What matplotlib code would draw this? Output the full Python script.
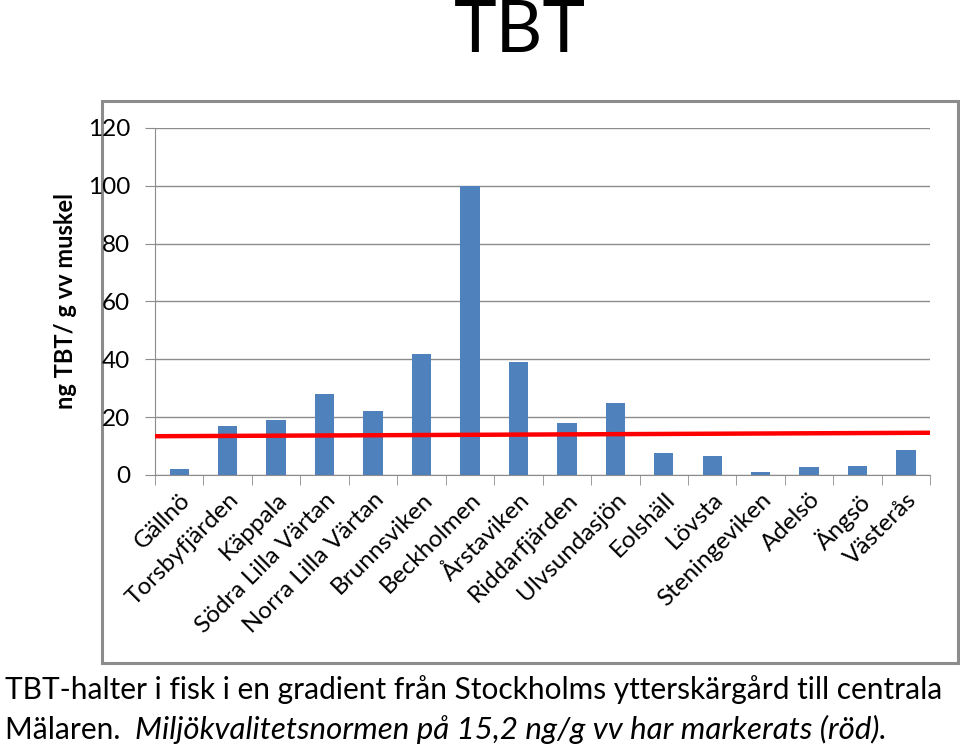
import matplotlib
matplotlib.use("Agg")
import matplotlib.pyplot as plt
from matplotlib.patches import Rectangle
import numpy as np

# data
sites = ["Gällnö", "Torsbyfjärden", "Käppala", "Södra Lilla Värtan",
         "Norra Lilla Värtan", "Brunnsviken", "Beckholmen", "Årstaviken",
         "Riddarfjärden", "Ulvsundasjön", "Eolshäll", "Lövsta",
         "Steningeviken", "Adelsö", "Ängsö", "Västerås"]
tbt = [2, 17, 19, 28, 22, 42, 100, 39, 18, 25, 7.5, 6.5, 1, 2.6, 3, 8.7]
# hand drawn norm line (left end, right end)
norm_line = [13.4, 14.6]
yticks = [0, 20, 40, 60, 80, 100, 120]

plt.rcParams['font.family'] = ['Lato', 'DejaVu Sans']

fig = plt.figure(figsize=(9.6, 7.48), dpi=100)

# chart frame
frame = Rectangle((0.106, 0.1136), 0.892, 0.752, transform=fig.transFigure,
                  fill=False, edgecolor="#8c8c8c", lw=2.2, zorder=0)
fig.add_artist(frame)

ax = fig.add_axes([0.1615, 0.365, 0.8075, 0.464])
x = np.arange(len(sites))
ax.bar(x, tbt, width=0.4, color="#4F81BD", zorder=2)
ax.plot([-0.5, len(sites) - 0.5], norm_line, color="#ff0000", lw=3.2,
        solid_capstyle="butt", zorder=3)

ax.set_xlim(-0.5, len(sites) - 0.5)
ax.set_ylim(0, 120)
ax.set_yticks(yticks)
ax.yaxis.grid(True, color="#8c8c8c", lw=1)
ax.set_axisbelow(True)
for s in ["top", "right"]:
    ax.spines[s].set_visible(False)
ax.spines["left"].set_color("#8c8c8c")
ax.spines["bottom"].set_color("#8c8c8c")

ax.set_xticks(x)
ax.set_xticklabels(sites, rotation=45, ha="right", rotation_mode="anchor",
                   fontsize=17.5)
ax.tick_params(axis="x", length=0, pad=10)
ax.set_xticks(np.arange(-0.5, len(sites)), minor=True)
ax.tick_params(axis="x", which="minor", length=7, color="#8c8c8c", direction="out")
ax.tick_params(axis="y", length=7, color="#8c8c8c", labelsize=17.5, pad=11)

ax.set_ylabel("ng TBT/ g vv muskel", fontsize=17, fontweight="bold", labelpad=8)

fig.text(0.542, 0.958, "TBT", ha="center", va="center", fontsize=52)

fig.text(0.005, 0.078, "TBT-halter i fisk i en gradient från Stockholms ytterskärgård till centrala",
         fontsize=21.5, va="center")
t1 = fig.text(0.005, 0.024, "Mälaren.  ", fontsize=21.5, va="center")
ax.annotate("Miljökvalitetsnormen på 15,2 ng/g vv har markerats (röd).",
            xy=(1, 0), xycoords=t1, va="bottom", ha="left",
            fontsize=22.5, style="italic", annotation_clip=False)

fig.savefig("out.png", dpi=100)
